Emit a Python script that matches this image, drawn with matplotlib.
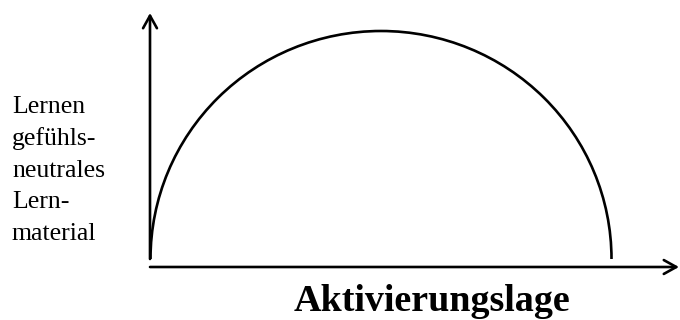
import matplotlib
matplotlib.use("Agg")
import matplotlib.pyplot as plt
from matplotlib.patches import Arc

# --- data ---
y_label_lines = ["Lernen", "gefühls-", "neutrales", "Lern-", "material"]
x_label = "Aktivierungslage"
arc_center = (381, 259)
arc_width = 461
arc_height = 456

fig = plt.figure(figsize=(6.8, 3.2), dpi=100)
ax = fig.add_axes([0, 0, 1, 1])
ax.set_xlim(0, 680)
ax.set_ylim(320, 0)
ax.axis("off")

lw = 1.9
astyle = "->,head_length=0.9,head_width=0.5"
# axes with open arrowheads
ax.annotate("", xy=(150, 13), xytext=(150, 259),
            arrowprops=dict(arrowstyle=astyle, lw=lw, color="black", shrinkA=0, shrinkB=0))
ax.annotate("", xy=(679, 267), xytext=(150, 267),
            arrowprops=dict(arrowstyle=astyle, lw=lw, color="black", shrinkA=0, shrinkB=0))

arc = Arc(arc_center, arc_width, arc_height, theta1=180, theta2=360, lw=lw, color="black")
ax.add_patch(arc)

serif = ["Liberation Serif", "DejaVu Serif"]
for i, line in enumerate(y_label_lines):
    ax.text(12, 113 + i * 31.8, line, fontsize=18.5, family=serif, va="baseline", ha="left")

ax.text(432, 311, x_label, fontsize=27.4, family=serif, weight="bold", ha="center", va="baseline")

fig.savefig("out.png", dpi=100)
